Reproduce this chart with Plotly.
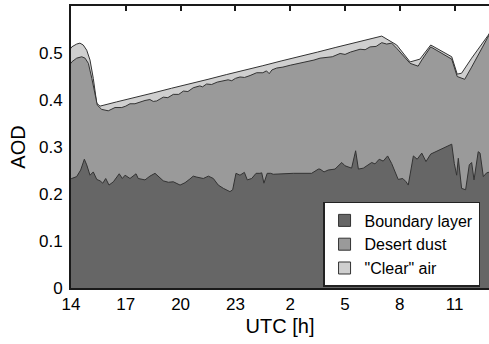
import plotly.graph_objects as go

# Time in hours since 00 UTC of first day (values > 24 are next day)
t_total = [14.0, 14.04, 14.31, 14.49, 14.67, 14.86, 15.04, 15.22, 15.41, 15.59, 16.5, 17.5,
           18.5, 19.5, 20.5, 21.5, 22.5, 23.5, 24.5, 25.5, 26.5, 27.5, 28.5, 29.5, 30.5,
           31.01, 31.83, 32.56, 33.10, 33.69, 34.84, 35.14, 35.38, 35.93, 36.84, 36.95]
aod_total = [0.510, 0.513, 0.519, 0.521, 0.517, 0.506, 0.485, 0.446, 0.393, 0.387, 0.396, 0.405,
             0.415, 0.425, 0.434, 0.444, 0.454, 0.463, 0.473, 0.483, 0.492, 0.502, 0.512, 0.521, 0.531,
             0.536, 0.517, 0.481, 0.487, 0.517, 0.492, 0.455, 0.457, 0.489, 0.538, 0.545]

t_dust = [14.0, 14.04, 14.31, 14.59, 14.77, 14.95, 15.14, 15.31, 15.44, 15.68, 16.04, 16.41, 16.78,
          17.0, 17.23, 17.5, 17.78, 18.05, 18.32, 18.5, 18.69, 19.05, 19.3, 19.6, 19.9, 20.15, 20.4,
          20.69, 21.05, 21.2, 21.42, 21.7, 22.0, 22.34, 22.6, 22.8, 23.0, 23.25, 23.5, 23.8, 24.16,
          24.5, 24.7, 24.85, 25.0, 25.26, 25.6, 26.0, 26.4, 26.9, 27.3, 27.63, 28.0, 28.3, 28.73,
          29.0, 29.3, 29.82, 30.1, 30.37, 30.7, 31.01, 31.28, 31.55, 31.83, 32.56, 33.0, 33.2,
          33.69, 34.84, 35.14, 35.55, 35.93, 36.84, 36.95]
aod_dust = [0.478, 0.481, 0.489, 0.492, 0.489, 0.478, 0.446, 0.411, 0.389, 0.380, 0.377, 0.384, 0.384,
            0.387, 0.392, 0.392, 0.396, 0.399, 0.401, 0.397, 0.398, 0.406, 0.405, 0.412, 0.412, 0.419, 0.418,
            0.426, 0.430, 0.428, 0.434, 0.433, 0.438, 0.441, 0.443, 0.441, 0.446, 0.449, 0.448, 0.452, 0.458,
            0.458, 0.462, 0.456, 0.464, 0.468, 0.470, 0.474, 0.477, 0.482, 0.485, 0.489, 0.490, 0.492, 0.499,
            0.497, 0.502, 0.508, 0.507, 0.513, 0.514, 0.522, 0.519, 0.521, 0.510, 0.478, 0.472, 0.485,
            0.513, 0.487, 0.450, 0.444, 0.470, 0.535, 0.543]

t_bl = [14.0, 14.04, 14.31, 14.53, 14.73, 14.86, 15.04, 15.22, 15.41, 15.59, 15.74, 15.90, 16.08,
        16.32, 16.64, 16.81, 16.96, 17.23, 17.56, 17.68, 18.05, 18.32, 18.60, 18.78, 19.05, 19.33,
        19.60, 19.97, 20.24, 20.51, 20.69, 20.88, 21.24, 21.52, 21.79, 22.06, 22.34, 22.70, 22.85,
        23.03, 23.25, 23.49, 23.65, 23.89, 24.13, 24.34, 24.44, 24.56, 24.74, 24.93, 25.07, 26.17,
        27.17, 27.54, 27.63, 27.85, 28.08, 28.45, 28.82, 29.00, 29.36, 29.58, 29.73, 30.00, 30.46,
        30.64, 30.87, 31.09, 31.33, 31.55, 31.91, 32.16, 32.34, 32.46, 32.74, 32.95, 33.20, 33.43,
        33.69, 34.84, 34.98, 35.11, 35.20, 35.38, 35.60, 35.80, 35.93, 36.06, 36.29, 36.39, 36.57,
        36.75, 36.95]
aod_bl = [0.233, 0.233, 0.237, 0.251, 0.274, 0.262, 0.240, 0.247, 0.231, 0.228, 0.223, 0.233, 0.219,
          0.226, 0.243, 0.233, 0.240, 0.233, 0.243, 0.233, 0.230, 0.238, 0.244, 0.237, 0.228, 0.225,
          0.226, 0.219, 0.224, 0.232, 0.238, 0.236, 0.233, 0.238, 0.233, 0.219, 0.212, 0.205, 0.209,
          0.244, 0.240, 0.246, 0.230, 0.233, 0.244, 0.244, 0.245, 0.223, 0.244, 0.244, 0.242, 0.244,
          0.244, 0.253, 0.253, 0.247, 0.251, 0.253, 0.267, 0.260, 0.255, 0.292, 0.253, 0.255, 0.267,
          0.264, 0.274, 0.270, 0.281, 0.265, 0.231, 0.233, 0.226, 0.219, 0.281, 0.274, 0.287, 0.269,
          0.285, 0.306, 0.265, 0.240, 0.276, 0.212, 0.209, 0.262, 0.267, 0.230, 0.290, 0.287, 0.237,
          0.245, 0.247]

tick_vals = [14, 17, 20, 23, 26, 29, 32, 35]
tick_text = ["14", "17", "20", "23", "2", "5", "8", "11"]
y_ticks = [0, 0.1, 0.2, 0.3, 0.4, 0.5]
y_text = ["0", "0.1", "0.2", "0.3", "0.4", "0.5"]

names = ["Boundary layer", "Desert dust", '"Clear" air']
fills = ["#666666", "#9a9a9a", "#cfcfcf"]
edge = "#333333"
FONT = "Liberation Sans, Arial, sans-serif"

fig = go.Figure()
for tx, ty, col in [(t_total, aod_total, fills[2]), (t_dust, aod_dust, fills[1]), (t_bl, aod_bl, fills[0])]:
    fig.add_trace(go.Scatter(x=tx, y=ty, mode="lines", fill="tozeroy", fillcolor=col,
                             line=dict(color=edge, width=1), showlegend=False, hoverinfo="skip"))

for nm, col in zip(names, fills):
    fig.add_trace(go.Bar(x=[None], y=[None], name=nm, marker=dict(color=col, line=dict(color=edge, width=1))))

# helper trace so the top (mirrored) axis with inward ticks is drawn
fig.add_trace(go.Scatter(x=[None], y=[None], xaxis="x2", mode="lines", showlegend=False, hoverinfo="skip"))

fig.update_layout(
    width=489, height=344,
    margin=dict(l=71, r=0, t=6, b=56),
    paper_bgcolor="white", plot_bgcolor="white",
    font=dict(family=FONT, size=17, color="black"),
    xaxis=dict(range=[14, 36.88], tickvals=tick_vals, ticktext=tick_text, ticks="",
               showline=True, linecolor="#1a1a1a", linewidth=2, showgrid=False, zeroline=False,
               title=dict(text="UTC [h]", font=dict(size=20), standoff=6), ticklabelstandoff=0),
    xaxis2=dict(range=[14, 36.88], overlaying="x", side="top", tickvals=tick_vals, ticks="inside",
                ticklen=5, tickcolor="#1a1a1a", tickwidth=1.5, showticklabels=False,
                showline=True, linecolor="#1a1a1a", linewidth=2, showgrid=False, zeroline=False),
    yaxis=dict(range=[0, 0.6], tickvals=y_ticks, ticktext=y_text, ticks="",
               showline=True, linecolor="#1a1a1a", linewidth=2, showgrid=False, zeroline=False,
               title=dict(text="AOD", font=dict(size=20), standoff=8), ticklabelstandoff=3),
    legend=dict(x=0.603, y=0.305, xanchor="left", yanchor="top", bgcolor="white",
                bordercolor="#222222", borderwidth=1.5, font=dict(size=16), traceorder="normal"),
    barmode="overlay",
)

fig.write_html("out.html")
